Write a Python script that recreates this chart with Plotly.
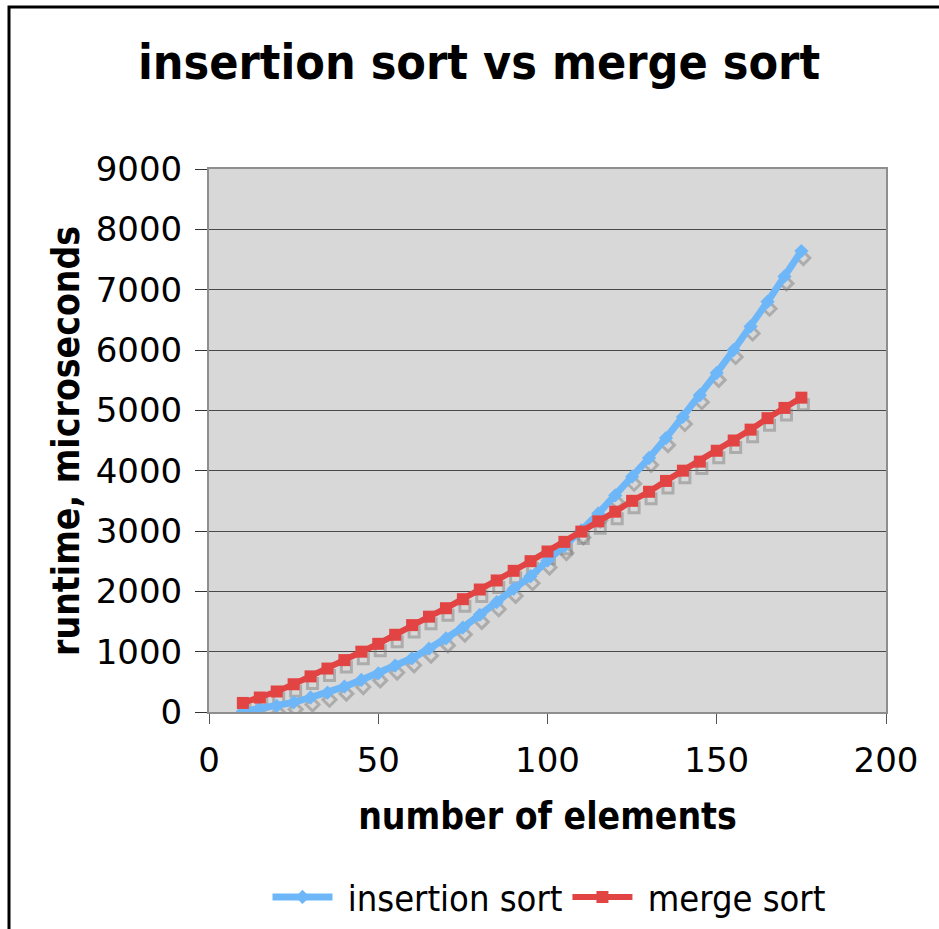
import plotly.graph_objects as go

n_elements = [10, 15, 20, 25, 30, 35, 40, 45, 50, 55, 60, 65, 70, 75, 80, 85, 90,
              95, 100, 105, 110, 115, 120, 125, 130, 135, 140, 145, 150, 155, 160,
              165, 170, 175]
insertion_sort = [10, 55, 100, 160, 240, 320, 420, 530, 640, 770, 890, 1050, 1220,
                  1400, 1610, 1820, 2040, 2250, 2510, 2750, 3010, 3290, 3590, 3900,
                  4210, 4540, 4890, 5250, 5620, 6000, 6390, 6800, 7220, 7640]
merge_sort = [150, 240, 340, 460, 590, 720, 860, 1000, 1130, 1280, 1440, 1580, 1720,
              1870, 2030, 2180, 2340, 2500, 2660, 2820, 2990, 3160, 3320, 3500, 3650,
              3830, 4000, 4150, 4330, 4500, 4680, 4870, 5040, 5210]
series_names = ["insertion sort", "merge sort"]
x_ticks = [0, 50, 100, 150, 200]
y_ticks = [0, 1000, 2000, 3000, 4000, 5000, 6000, 7000, 8000, 9000]

W, H = 939, 929
L, R, T, B = 209, 53, 169, 217
PW, PH = W - L - R, H - T - B
X_MAX, Y_MAX = 200, 9000
# shadow offset in pixels (right, down)
SDX, SDY = 2, 7
dx = SDX * X_MAX / PW
dy = SDY * Y_MAX / PH

BLUE = "#6db7f9"
RED = "#e24443"
SHADOW = "rgba(120,120,120,0.45)"
COND = "DejaVu Sans Condensed, DejaVu Sans, sans-serif"

fig = go.Figure()

# shadows (base axes, shifted range)
fig.add_trace(go.Scatter(x=n_elements, y=insertion_sort, mode="markers",
                         marker=dict(symbol="diamond-open", size=10, color=SHADOW,
                                     line=dict(width=3, color=SHADOW)),
                         showlegend=False, hoverinfo="skip", xaxis="x", yaxis="y"))
fig.add_trace(go.Scatter(x=n_elements, y=merge_sort, mode="markers",
                         marker=dict(symbol="square-open", size=10, color=SHADOW,
                                     line=dict(width=3, color=SHADOW)),
                         showlegend=False, hoverinfo="skip", xaxis="x", yaxis="y"))

# main series (overlay axes with real scale)
fig.add_trace(go.Scatter(x=n_elements, y=insertion_sort, mode="lines+markers",
                         name="\u00a0" + series_names[0],
                         line=dict(color=BLUE, width=7),
                         marker=dict(symbol="diamond", size=11, color=BLUE),
                         xaxis="x2", yaxis="y2"))
fig.add_trace(go.Scatter(x=n_elements, y=merge_sort, mode="lines+markers",
                         name="\u00a0" + series_names[1],
                         line=dict(color=RED, width=6),
                         marker=dict(symbol="square", size=12, color=RED),
                         xaxis="x2", yaxis="y2"))

# outer frame
fig.add_shape(type="rect", xref="paper", yref="paper",
              x0=(9 - L) / PW, x1=(W + 30 - L) / PW,
              y0=-(H + 30 - (T + PH)) / PH, y1=(T + PH - 7) / PH,
              line=dict(color="black", width=3), fillcolor="rgba(0,0,0,0)")

# y axis title
fig.add_annotation(text="<b>runtime, microseconds</b>", xref="paper", yref="paper",
                   x=(66 - L) / PW, y=(T + PH - 441) / PH, xanchor="center",
                   yanchor="middle", textangle=-90, showarrow=False,
                   font=dict(family=COND, size=37, color="black"))

fig.update_layout(
    width=W, height=H,
    margin=dict(l=L, r=R, t=T, b=B),
    paper_bgcolor="white",
    plot_bgcolor="#d8d8d8",
    title=dict(text="<b>insertion sort vs merge sort</b>",
               font=dict(family=COND, size=48, color="black"),
               x=479 / W, xanchor="center", xref="container",
               y=1 - 62 / H, yanchor="middle", yref="container"),
    xaxis=dict(range=[-dx, X_MAX - dx], visible=False, fixedrange=True),
    yaxis=dict(range=[dy, Y_MAX + dy], visible=False, fixedrange=True),
    xaxis2=dict(range=[0, X_MAX], overlaying="x", side="bottom", anchor="y2",
                tickvals=x_ticks, ticks="outside", ticklen=10, tickwidth=1,
                tickcolor="#555", showgrid=False, zeroline=False,
                showline=True, mirror=True, linecolor="#8e8e8e", linewidth=2,
                tickfont=dict(family="DejaVu Sans, sans-serif", size=34, color="black"),
                ticklabelstandoff=7,
                title=dict(text="<b>number of elements</b>", standoff=24,
                           font=dict(family=COND, size=37, color="black"))),
    yaxis2=dict(range=[0, Y_MAX], overlaying="y", side="left", anchor="x2",
                tickvals=y_ticks, ticks="outside", ticklen=12, tickwidth=1,
                tickcolor="#333", showgrid=True, gridcolor="#4a4a4a", gridwidth=1.3,
                zeroline=False,
                showline=True, mirror=True, linecolor="#8e8e8e", linewidth=2,
                tickfont=dict(family="DejaVu Sans, sans-serif", size=34, color="black"),
                ticklabelstandoff=6),
    legend=dict(orientation="h", x=549 / W, xanchor="center", xref="container",
                y=1 - 897 / H, yanchor="middle", yref="container",
                font=dict(family=COND, size=36, color="black"),
                bgcolor="rgba(0,0,0,0)", itemwidth=60),
    showlegend=True,
)

fig.write_html("out.html", config={"displayModeBar": False},
               post_script="document.body.style.margin='0';")
